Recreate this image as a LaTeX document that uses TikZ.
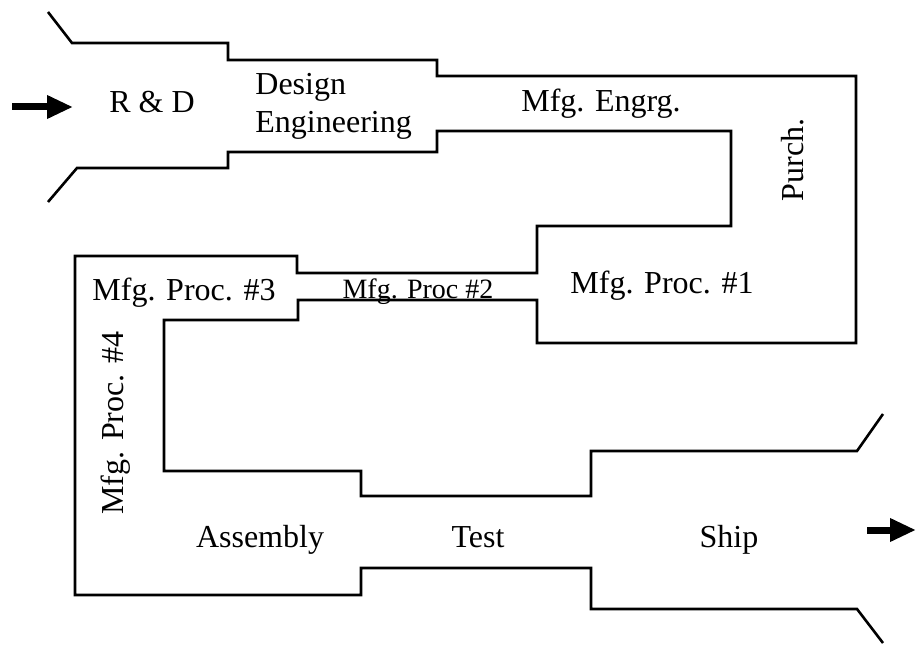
\documentclass[tikz,border=0pt]{standalone}
\usepackage{fontspec}
\setmainfont{Liberation Serif}
\usetikzlibrary{arrows.meta}

\begin{document}
\begin{tikzpicture}[
    x=0.5pt, y=-0.5pt,
    >={Triangle[length=13pt,width=11pt]},
    font=\fontsize{16}{19}\selectfont,
    wall/.style={draw, line width=1.3pt},
    flow/.style={->, line width=3.5pt},
    stage/.style={anchor=base, inner sep=0pt},
    sidestage/.style={stage, rotate=90}
]

\useasboundingbox (0,0) rectangle (916,647);

% outer wall of the pipe
\draw[wall] (48,12) -- (72,43) -- (228,43) -- (228,60) -- (437,60) -- (437,76)
    -- (856,76) -- (856,343) -- (537,343) -- (537,300) -- (298,300) -- (298,320)
    -- (164,320) -- (164,471) -- (361,471) -- (361,496) -- (591,496) -- (591,451)
    -- (857,451) -- (883,414);

% inner wall of the pipe
\draw[wall] (48,202) -- (77,168) -- (228,168) -- (228,152) -- (437,152) -- (437,131)
    -- (731,131) -- (731,226) -- (537,226) -- (537,273) -- (297,273) -- (297,256)
    -- (75,256) -- (75,595) -- (361,595) -- (361,568) -- (591,568) -- (591,609)
    -- (857,609) -- (883,643);

% stages
\node[stage] (rd) at (152,113) {R \& D};
\node[stage, anchor=base west, align=left] (design) at (255,133) {Design\\Engineering};
\node[stage] (mfgeng) at (601,112) {Mfg. Engrg.};
\node[sidestage] (purch) at (803,160) {Purch.};
\node[stage] (proc1) at (662,293) {Mfg. Proc. \#1};
\node[stage, font=\fontsize{14}{16}\selectfont] (proc2) at (418,298) {Mfg. Proc \#2};
\node[stage] (proc3) at (184,300) {Mfg. Proc. \#3};
\node[sidestage] (proc4) at (123,423) {Mfg. Proc. \#4};
\node[stage] (assy) at (260,547) {Assembly};
\node[stage] (test) at (478,547) {Test};
\node[stage] (ship) at (729,547) {Ship};

% in and out
\coordinate (inTail) at (12,107);
\coordinate (inTip) at (73,107);
\coordinate (outTail) at (867,530);
\coordinate (outTip) at (916,530);
\draw[flow] (inTail) -- (inTip);
\draw[flow] (outTail) -- (outTip);

\end{tikzpicture}
\end{document}
